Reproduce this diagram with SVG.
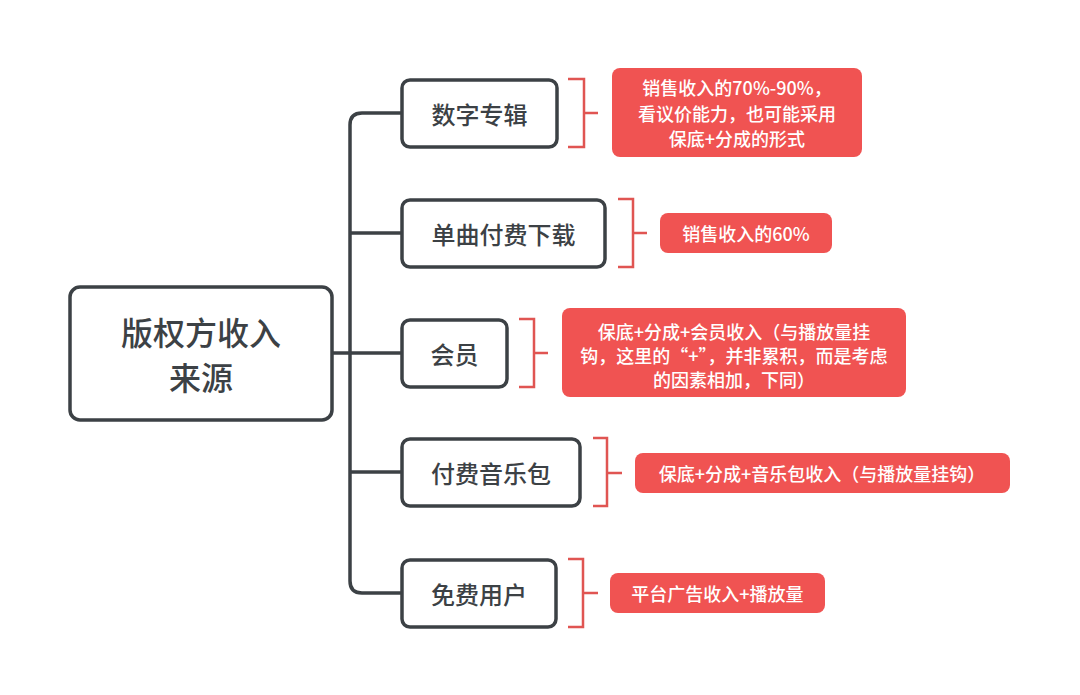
<svg xmlns="http://www.w3.org/2000/svg" width="1080" height="695" viewBox="0 0 1080 695">
<style>
.node{fill:#ffffff;stroke:#3c4145;stroke-width:3.5}
.nt{font-family:"Noto Sans CJK SC","Noto Sans",sans-serif;font-weight:500;fill:#3c4145;text-anchor:middle;dominant-baseline:central}
.note{fill:#f05352}
.ntx{font-family:"Noto Sans CJK SC","Noto Sans",sans-serif;font-weight:500;fill:#ffffff;font-size:18px;text-anchor:middle;dominant-baseline:central}
.br{fill:none;stroke:#e05552;stroke-width:2.5}
.conn{fill:none;stroke:#3c4145;stroke-width:3.5}
</style>
<rect width="1080" height="695" fill="#ffffff"/>
<g id="connectors">
<path class="conn" d="M332,353 H350"/>
<path class="conn" d="M402,113 H362 Q350,113 350,125 V581 Q350,593 362,593 H402"/>
<path class="conn" d="M350,233 H402"/>
<path class="conn" d="M350,353 H402"/>
<path class="conn" d="M350,472 H402"/>
</g>
<g id="root">
<rect class="node" x="70" y="287" width="262" height="133" rx="10"/>
<text class="nt" font-size="32" x="201" y="331">版权方收入</text>
<text class="nt" font-size="32" x="201" y="376">来源</text>
</g>
<g id="n1">
<rect class="node" x="402" y="80" width="155" height="67" rx="8"/>
<text class="nt" font-size="24" x="479.5" y="113">数字专辑</text>
</g>
<g id="n2">
<rect class="node" x="402" y="200" width="203" height="67" rx="8"/>
<text class="nt" font-size="24" x="503.5" y="233">单曲付费下载</text>
</g>
<g id="n3">
<rect class="node" x="402" y="320" width="105" height="67" rx="8"/>
<text class="nt" font-size="24" x="454.5" y="353">会员</text>
</g>
<g id="n4">
<rect class="node" x="402" y="439" width="178" height="67" rx="8"/>
<text class="nt" font-size="24" x="491" y="472">付费音乐包</text>
</g>
<g id="n5">
<rect class="node" x="402" y="560" width="154" height="67" rx="8"/>
<text class="nt" font-size="24" x="479" y="593">免费用户</text>
</g>
<g id="note1">
<path class="br" d="M568,79 H584 V147 H568 M584,113 H598"/>
<rect class="note" x="612" y="68" width="250" height="89" rx="8"/>
<text class="ntx" x="737" y="87">销售收入的70%-90%，</text>
<text class="ntx" x="737" y="113">看议价能力，也可能采用</text>
<text class="ntx" x="737" y="138">保底+分成的形式</text>
</g>
<g id="note2">
<path class="br" d="M618,199 H633 V267 H618 M633,233 H647"/>
<rect class="note" x="660" y="213" width="172" height="40" rx="8"/>
<text class="ntx" x="746" y="233">销售收入的60%</text>
</g>
<g id="note3">
<path class="br" d="M519,319 H534 V387 H519 M534,353 H548"/>
<rect class="note" x="562" y="308" width="344" height="89" rx="8"/>
<text class="ntx" x="734" y="331">保底+分成+会员收入（与播放量挂</text>
<text class="ntx" x="734" y="355">钩，这里的“+”，并非累积，而是考虑</text>
<text class="ntx" x="734" y="379">的因素相加，下同）</text>
</g>
<g id="note4">
<path class="br" d="M593,438 H607 V506 H593 M607,473 H622"/>
<rect class="note" x="635" y="453" width="375" height="40" rx="8"/>
<text class="ntx" x="822" y="473">保底+分成+音乐包收入（与播放量挂钩）</text>
</g>
<g id="note5">
<path class="br" d="M568,559 H583 V627 H568 M583,593 H598"/>
<rect class="note" x="610" y="573" width="215" height="40" rx="8"/>
<text class="ntx" x="717.5" y="593">平台广告收入+播放量</text>
</g>
</svg>
